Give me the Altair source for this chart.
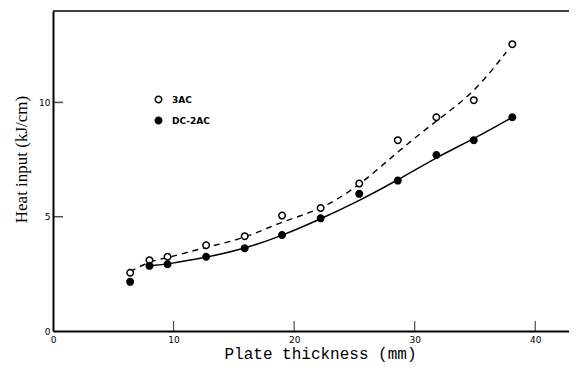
import altair as alt
import pandas as pd

# Measured points
thickness = [6.4, 8.0, 9.5, 12.7, 15.9, 19.0, 22.2, 25.4, 28.6, 31.8, 34.9, 38.1]
heat_3ac = [2.55, 3.1, 3.25, 3.75, 4.15, 5.05, 5.38, 6.45, 8.35, 9.35, 10.1, 12.55]
heat_dc2ac = [2.15, 2.85, 2.92, 3.25, 3.62, 4.2, 4.93, 6.0, 6.58, 7.7, 8.35, 9.35]

# Fitted curves
curve_3ac_x = [6.4, 8.0, 9.5, 12.7, 15.9, 19.0, 22.2, 25.4, 28.6, 31.8, 34.9, 37.6]
curve_3ac_y = [2.6, 3.05, 3.2, 3.67, 4.05, 4.8, 5.3, 6.35, 7.85, 9.2, 10.4, 12.2]
curve_dc_x = [8.0, 9.5, 12.7, 15.9, 19.0, 22.2, 25.4, 28.6, 31.8, 34.9, 38.1]
curve_dc_y = [2.85, 2.92, 3.22, 3.6, 4.17, 4.9, 5.7, 6.6, 7.6, 8.4, 9.35]

series_names = ["3AC", "DC-2AC"]
x_tick_values = [0, 10, 20, 30, 40]
y_tick_values = [0, 5, 10]
x_inner_ticks = [10, 20, 30, 40]
y_inner_ticks = [5, 10]

W, H = 516, 320

pts = pd.DataFrame({
    "x": thickness + thickness,
    "y": heat_3ac + heat_dc2ac,
    "series": [series_names[0]] * len(thickness) + [series_names[1]] * len(thickness),
})
c3 = pd.DataFrame({"x": curve_3ac_x, "y": curve_3ac_y})
cd = pd.DataFrame({"x": curve_dc_x, "y": curve_dc_y})

xscale = alt.Scale(domain=[0, 42.8], nice=False, zero=False)
yscale = alt.Scale(domain=[0, 14], nice=False)

xaxis = alt.Axis(
    values=x_tick_values, ticks=False, grid=False, domainColor="black", domainWidth=2,
    labelFont="DejaVu Sans", labelFontSize=9, labelPadding=4, labelColor="black",
    labelFlush=False,
    title="Plate thickness (mm)", titleFont="Liberation Mono", titleFontSize=16,
    titleFontWeight="normal", titleColor="black", titleY=22, titleX=267,
    titleBaseline="middle",
)
yaxis = alt.Axis(
    values=y_tick_values, ticks=False, grid=False, domainColor="black", domainWidth=2,
    labelFont="DejaVu Sans", labelFontSize=9, labelPadding=3, labelColor="black",
    title="Heat input (kJ/cm)", titleFont="Liberation Serif", titleFontSize=17,
    titleFontWeight="normal", titleColor="black", titleX=-32, titleY=148,
    titleAngle=270, titleBaseline="middle", titleAlign="center",
)

X = lambda f="x:Q": alt.X(f, scale=xscale, axis=xaxis)
Y = lambda f="y:Q": alt.Y(f, scale=yscale, axis=yaxis)

points = alt.Chart(pts).mark_point(
    shape="circle", filled=True, size=42, stroke="black", strokeWidth=1.5, opacity=1
).encode(
    x=X(),
    y=Y(),
    fill=alt.Fill(
        "series:N",
        scale=alt.Scale(domain=series_names, range=["white", "black"]),
        legend=alt.Legend(
            title=None, orient="none", legendX=101, legendY=84, padding=0,
            symbolType="circle", symbolSize=42, symbolStrokeColor="black",
            symbolStrokeWidth=1.5, labelFont="DejaVu Sans", labelFontSize=9,
            labelFontWeight="bold", labelColor="black", rowPadding=8, labelOffset=9,
        ),
    ),
)

line3 = alt.Chart(c3).mark_line(
    color="black", strokeWidth=1.4, strokeDash=[6, 5], interpolate="basis"
).encode(x=X(), y=Y())
lined = alt.Chart(cd).mark_line(
    color="black", strokeWidth=1.5, interpolate="basis"
).encode(x=X(), y=Y())

xt = alt.Chart(pd.DataFrame({"x": x_inner_ticks})).mark_tick(
    color="black", thickness=1.2, size=10
).encode(x=X(), y=alt.value(H - 5))

yt = alt.Chart(pd.DataFrame({"y": y_inner_ticks})).mark_tick(
    color="black", thickness=1.5, size=10
).encode(y=Y(), x=alt.value(5))

top = alt.Chart(pd.DataFrame({"a": [0]})).mark_rule(color="black", strokeWidth=1.5).encode(
    x=alt.value(0), x2=alt.value(W), y=alt.value(0)
)

chart = alt.layer(line3, lined, points, xt, yt, top).properties(
    width=W, height=H,
    autosize=alt.AutoSizeParams(type="none"),
    padding={"left": 45, "top": 3, "right": 0, "bottom": 33},
    background="white",
).configure_view(stroke=None)

chart.save("out.html", embed_options={"renderer": "svg", "actions": False})
